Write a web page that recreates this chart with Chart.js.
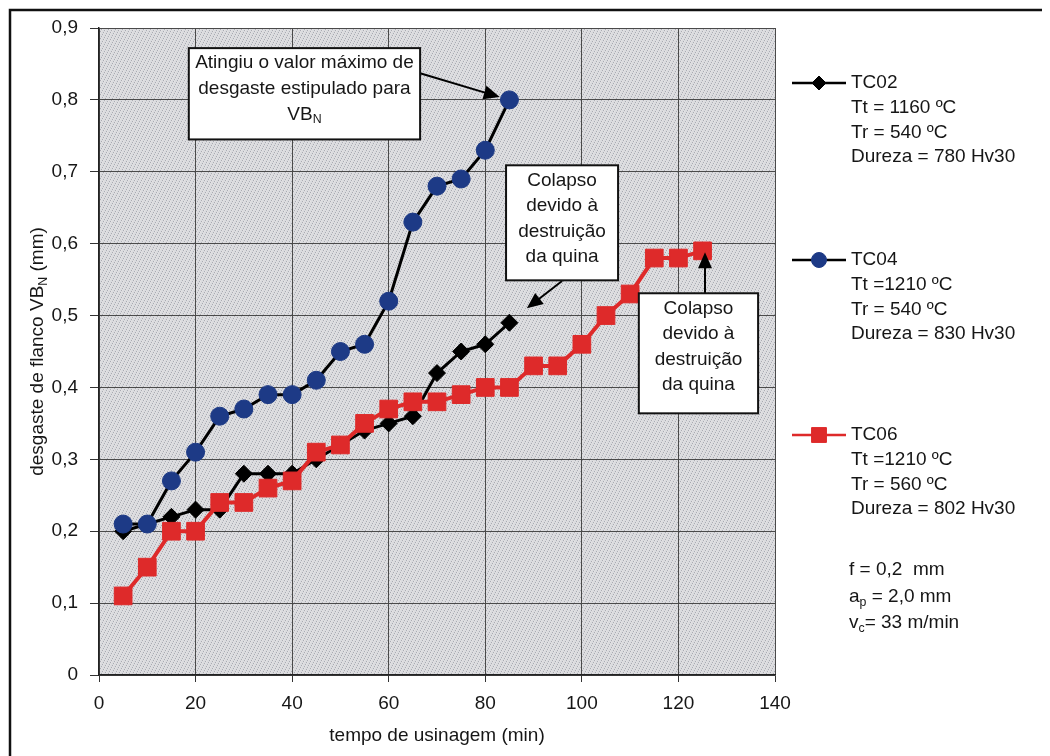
<!DOCTYPE html>
<html>
<head>
<meta charset="utf-8">
<script src="https://cdn.jsdelivr.net/npm/chart.js@4/dist/chart.umd.min.js"></script>
<style>
  body { margin: 0; background: #fff; }
  #wrap { width: 1050px; height: 756px; }
</style>
</head>
<body>
<div id="wrap"><canvas id="myChart" width="1050" height="756"></canvas></div>
<script>
// tempo de usinagem (min)
var tempo = [5, 10, 15, 20, 25, 30, 35, 40, 45, 50, 55, 60, 65, 70, 75, 80, 85];
var tempoTC06 = [5, 10, 15, 20, 25, 30, 35, 40, 45, 50, 55, 60, 65, 70, 75, 80, 85,
                 90, 95, 100, 105, 110, 115, 120, 125];

// desgaste de flanco VBN (mm)
var tc02 = [0.20, 0.21, 0.22, 0.23, 0.23, 0.28, 0.28, 0.28, 0.30, 0.32, 0.34, 0.35, 0.36, 0.42, 0.45, 0.46, 0.49];
var tc04 = [0.21, 0.21, 0.27, 0.31, 0.36, 0.37, 0.39, 0.39, 0.41, 0.45, 0.46, 0.52, 0.63, 0.68, 0.69, 0.73, 0.80];
var tc06 = [0.11, 0.15, 0.20, 0.20, 0.24, 0.24, 0.26, 0.27, 0.31, 0.32, 0.35, 0.37, 0.38, 0.38, 0.39, 0.40, 0.40,
            0.43, 0.43, 0.46, 0.50, 0.53, 0.58, 0.58, 0.59];

var xTicks = [0, 20, 40, 60, 80, 100, 120, 140];
var yTicks = ['0', '0,1', '0,2', '0,3', '0,4', '0,5', '0,6', '0,7', '0,8', '0,9'];

// legend texts ( _{..} = subscript )
var legendTC02 = ['TC02', 'Tt = 1160 ºC', 'Tr = 540 ºC', 'Dureza = 780 Hv30'];
var legendTC04 = ['TC04', 'Tt =1210 ºC', 'Tr = 540 ºC', 'Dureza = 830 Hv30'];
var legendTC06 = ['TC06', 'Tt =1210 ºC', 'Tr = 560 ºC', 'Dureza = 802 Hv30'];
var condicoes = ['f = 0,2  mm', 'a_{p} = 2,0 mm', 'v_{c}= 33 m/min'];

// annotation boxes: [x1, x2, yTop, yBottom] in data units, arrow [tailX, tailY, tipX, tipY]
var nota1 = ['Atingiu o valor máximo de', 'desgaste estipulado para', 'VB_{N}'];
var nota2 = ['Colapso', 'devido à', 'destruição', 'da quina'];
var nota3 = ['Colapso', 'devido à', 'destruição', 'da quina'];
var box1 = [18.6, 66.5, 0.872, 0.745], seta1 = [66.5, 0.837, 83.0, 0.804];
var box2 = [84.3, 107.5, 0.709, 0.549], seta2 = [95.9, 0.548, 88.6, 0.510];
var box3 = [111.8, 136.5, 0.531, 0.364], seta3 = [125.5, 0.531, 125.5, 0.588];

function pts(xs, ys) {
    var out = [];
    for (var i = 0; i < ys.length; i++) out.push({x: xs[i], y: ys[i]});
    return out;
}

var FONT = '"Liberation Sans", Arial, sans-serif';
var TXT = '#161616';
var AZUL = '#1d3a86';
var VERM = '#de2a2a';

// draws text, "_{X}" means subscript X
function richText(ctx, str, x, y, size, align) {
    var parts = [];
    var re = /_\{([^}]*)\}/g, last = 0, m;
    while ((m = re.exec(str)) !== null) {
        parts.push({t: str.slice(last, m.index), s: false});
        parts.push({t: m[1], s: true});
        last = re.lastIndex;
    }
    parts.push({t: str.slice(last), s: false});
    var w = 0;
    parts.forEach(function (p) {
        ctx.font = (p.s ? size * 0.65 : size) + 'px ' + FONT;
        p.w = ctx.measureText(p.t).width;
        w += p.w;
    });
    var cx = x;
    if (align == 'center') cx = x - w / 2;
    ctx.textAlign = 'left';
    ctx.textBaseline = 'middle';
    parts.forEach(function (p) {
        ctx.font = (p.s ? size * 0.65 : size) + 'px ' + FONT;
        ctx.fillText(p.t, cx, p.s ? y + size * 0.3 : y);
        cx += p.w;
    });
}

function arrow(ctx, x1, y1, x2, y2) {
    var ang = Math.atan2(y2 - y1, x2 - x1);
    var len = 16, half = 7;
    ctx.strokeStyle = '#000';
    ctx.lineWidth = 2;
    ctx.beginPath();
    ctx.moveTo(x1, y1);
    ctx.lineTo(x2 - Math.cos(ang) * len * 0.8, y2 - Math.sin(ang) * len * 0.8);
    ctx.stroke();
    ctx.fillStyle = '#000';
    ctx.beginPath();
    ctx.moveTo(x2, y2);
    ctx.lineTo(x2 - Math.cos(ang) * len - Math.sin(ang) * half, y2 - Math.sin(ang) * len + Math.cos(ang) * half);
    ctx.lineTo(x2 - Math.cos(ang) * len + Math.sin(ang) * half, y2 - Math.sin(ang) * len - Math.cos(ang) * half);
    ctx.closePath();
    ctx.fill();
}

// stippled plot background tile (fixed dot layout)
var dots = [[0, 0], [3, 1], [6, 2], [2, 3], [5, 4], [1, 5], [4, 6]];
function stipple() {
    var c = document.createElement('canvas');
    c.width = 7; c.height = 7;
    var g = c.getContext('2d');
    g.fillStyle = '#dadbde';
    g.fillRect(0, 0, 7, 7);
    g.fillStyle = '#a9abb3';
    dots.forEach(function (p) { g.fillRect(p[0], p[1], 1, 1); });
    g.fillStyle = '#e6e2e4';
    dots.forEach(function (p) { g.fillRect((p[0] + 2) % 7, (p[1] + 5) % 7, 1, 1); });
    return c;
}

var fundo = {
    id: 'fundo',
    beforeDraw: function (chart) {
        var ctx = chart.ctx, a = chart.chartArea;
        ctx.save();
        ctx.fillStyle = '#fff';
        ctx.fillRect(0, 0, chart.width, chart.height);
        ctx.fillStyle = ctx.createPattern(stipple(), 'repeat');
        ctx.fillRect(a.left, a.top, a.right - a.left, a.bottom - a.top);
        // outer frame (top and left)
        ctx.strokeStyle = '#111';
        ctx.lineWidth = 2.5;
        ctx.beginPath();
        ctx.moveTo(10, 760);
        ctx.lineTo(10, 10);
        ctx.lineTo(1042, 10);
        ctx.stroke();
        ctx.restore();
    }
};

var extras = {
    id: 'extras',
    afterDraw: function (chart) {
        var ctx = chart.ctx, a = chart.chartArea;
        var xs = chart.scales.x, ys = chart.scales.y;
        ctx.save();
        ctx.fillStyle = TXT;

        // axis titles
        richText(ctx, 'tempo de usinagem (min)', (a.left + a.right) / 2, 736, 19, 'center');
        ctx.save();
        ctx.translate(38, (a.top + a.bottom) / 2);
        ctx.rotate(-Math.PI / 2);
        richText(ctx, 'desgaste de flanco VB_{N} (mm)', 0, 0, 19, 'center');
        ctx.restore();

        // annotation boxes
        [[box1, nota1, seta1], [box2, nota2, seta2], [box3, nota3, seta3]].forEach(function (n) {
            var b = n[0], s = n[2];
            var l = xs.getPixelForValue(b[0]), r = xs.getPixelForValue(b[1]);
            var t = ys.getPixelForValue(b[2]), bt = ys.getPixelForValue(b[3]);
            arrow(ctx, xs.getPixelForValue(s[0]), ys.getPixelForValue(s[1]),
                       xs.getPixelForValue(s[2]), ys.getPixelForValue(s[3]));
            ctx.fillStyle = '#fff';
            ctx.fillRect(l, t, r - l, bt - t);
            ctx.strokeStyle = '#111';
            ctx.lineWidth = 2;
            ctx.strokeRect(l, t, r - l, bt - t);
            ctx.fillStyle = TXT;
            n[1].forEach(function (line, k) {
                richText(ctx, line, (l + r) / 2, t + 15 + k * 25.6, 19, 'center');
            });
        });

        // legend
        var entradas = [
            {texto: legendTC02, y: 83, ds: 0},
            {texto: legendTC04, y: 260, ds: 1},
            {texto: legendTC06, y: 435, ds: 2}
        ];
        entradas.forEach(function (e) {
            var d = chart.data.datasets[e.ds];
            ctx.strokeStyle = d.borderColor;
            ctx.lineWidth = 2.5;
            ctx.beginPath();
            ctx.moveTo(792, e.y);
            ctx.lineTo(846, e.y);
            ctx.stroke();
            ctx.fillStyle = d.pointBackgroundColor;
            ctx.strokeStyle = d.pointBorderColor;
            ctx.lineWidth = 1;
            Chart.helpers.drawPoint(ctx, {
                pointStyle: d.pointStyle,
                radius: d.legendRadius,
                rotation: 0,
                borderWidth: 1
            }, 819, e.y);
            ctx.fillStyle = TXT;
            e.texto.forEach(function (line, k) {
                richText(ctx, line, 851, e.y + k * 24.7, 19, 'left');
            });
        });
        richText(ctx, condicoes[0], 849, 570, 19, 'left');
        richText(ctx, condicoes[1], 849, 597, 19, 'left');
        richText(ctx, condicoes[2], 849, 623, 19, 'left');
        ctx.restore();
    }
};

Chart.defaults.font.family = FONT;
Chart.defaults.color = TXT;

var ctx = document.getElementById('myChart').getContext('2d');
var myChart = new Chart(ctx, {
    type: 'line',
    data: {
        datasets: [{
            label: 'TC02',
            data: pts(tempo, tc02),
            borderColor: '#000',
            borderWidth: 3,
            pointStyle: 'rectRot',
            pointRadius: 8.5,
            legendRadius: 7,
            pointBackgroundColor: '#000',
            pointBorderColor: '#000',
            pointBorderWidth: 1,
            order: 3
        }, {
            label: 'TC04',
            data: pts(tempo, tc04),
            borderColor: '#000',
            borderWidth: 3,
            pointStyle: 'circle',
            pointRadius: 9,
            legendRadius: 7.5,
            pointBackgroundColor: AZUL,
            pointBorderColor: AZUL,
            pointBorderWidth: 1,
            order: 1
        }, {
            label: 'TC06',
            data: pts(tempoTC06, tc06),
            borderColor: VERM,
            borderWidth: 4,
            pointStyle: 'rect',
            pointRadius: 12.5,
            legendRadius: 10.5,
            pointBackgroundColor: VERM,
            pointBorderColor: VERM,
            pointBorderWidth: 1,
            order: 2
        }]
    },
    options: {
        responsive: false,
        animation: false,
        devicePixelRatio: 1,
        layout: { padding: { left: 0, top: 28, right: 275, bottom: 0 } },
        plugins: {
            legend: { display: false },
            tooltip: { enabled: false }
        },
        elements: { line: { tension: 0 } },
        scales: {
            x: {
                type: 'linear',
                min: 0, max: 140,
                afterFit: function (s) { s.height = 81; },
                afterBuildTicks: function (s) { s.ticks = xTicks.map(function (v) { return {value: v}; }); },
                ticks: { font: { size: 19 }, color: TXT, padding: 10 },
                grid: { color: '#4a4a4a', lineWidth: 1, tickLength: 7, tickColor: '#333' },
                border: { color: '#222', width: 1.5 }
            },
            y: {
                type: 'linear',
                min: 0, max: 0.9,
                afterFit: function (s) { s.width = 99; },
                afterBuildTicks: function (s) { s.ticks = yTicks.map(function (t, i) { return {value: i / 10}; }); },
                ticks: {
                    font: { size: 19 }, color: TXT, padding: 12,
                    callback: function (v, i) { return yTicks[i]; }
                },
                grid: { color: '#4a4a4a', lineWidth: 1, tickLength: 9, tickColor: '#333' },
                border: { color: '#222', width: 1.5 }
            }
        }
    },
    plugins: [fundo, extras]
});
</script>
</body>
</html>
